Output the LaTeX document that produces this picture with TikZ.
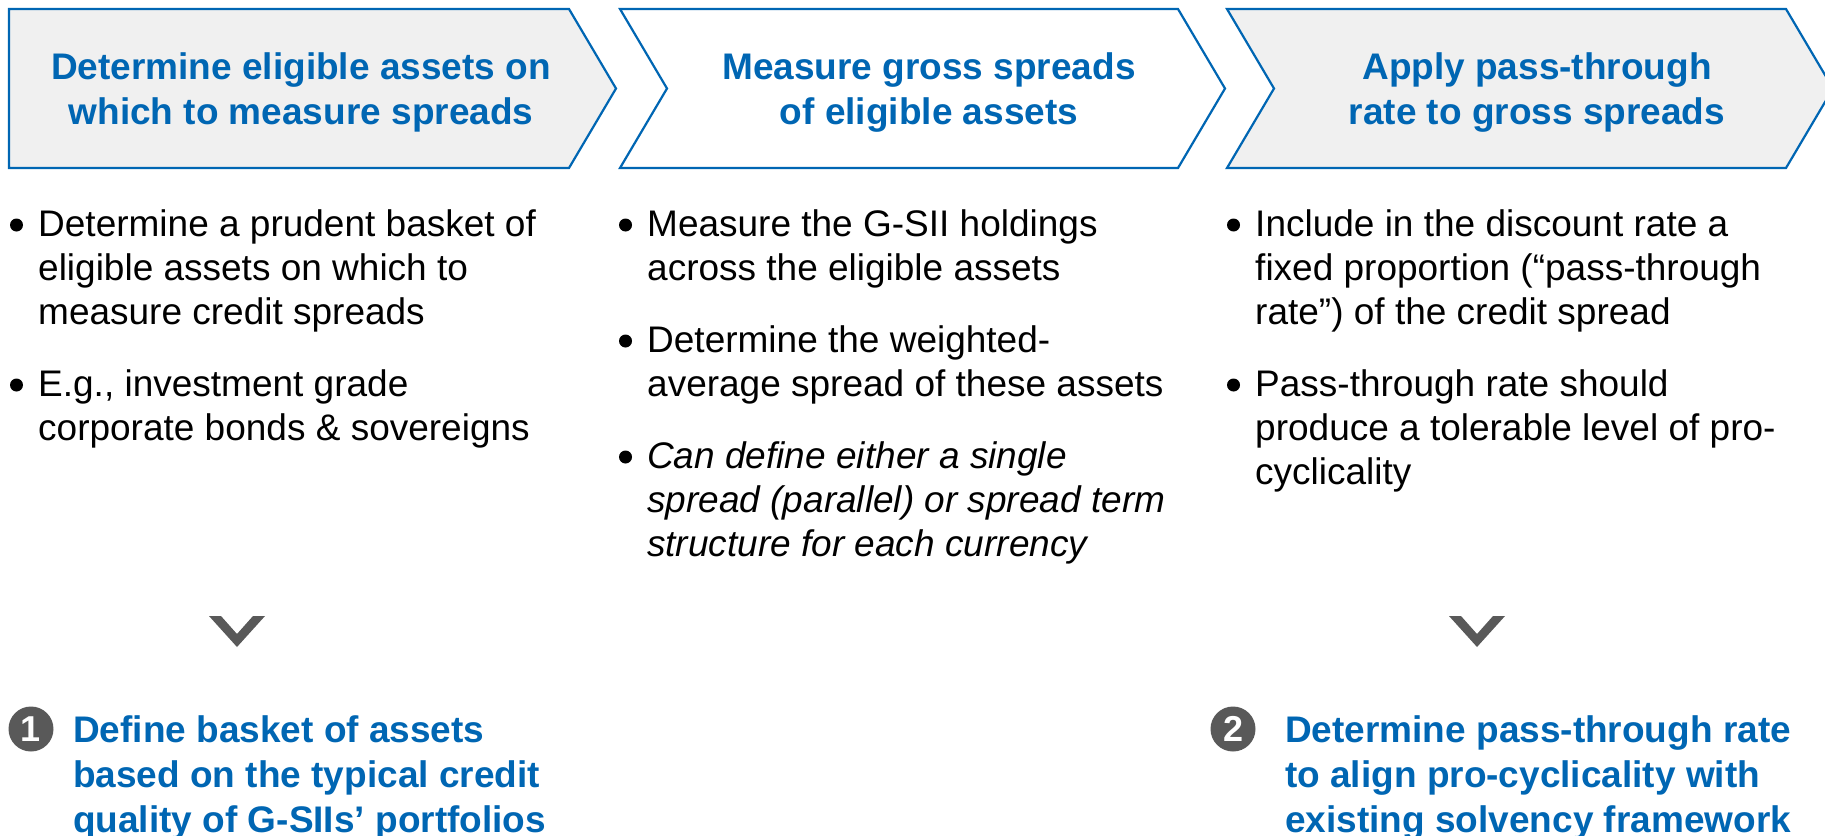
\documentclass[tikz,border=0pt]{standalone}
\usepackage{fontspec}
\setmainfont{Liberation Sans}
\definecolor{stageblue}{HTML}{0066B3}
\definecolor{stagefill}{HTML}{F0F0F0}
\definecolor{markgray}{HTML}{595959}
\begin{document}
\begin{tikzpicture}[x=1pt,y=-1pt,
  stagebox/.style={draw=stageblue, line width=2.2pt, line join=miter},
  headtext/.style={font=\fontsize{37}{45}\selectfont\bfseries, text=stageblue, align=center, inner sep=0pt, anchor=north},
  bodytext/.style={font=\fontsize{37}{44}\selectfont, text=black, align=left, inner sep=0pt, anchor=north west},
  outcome/.style={font=\fontsize{37}{45}\selectfont\bfseries, text=stageblue, align=left, inner sep=0pt, anchor=north west},
  bulletdot/.style={fill=black},
  downmark/.style={fill=markgray},
  numdisc/.style={circle, fill=markgray, text=white, minimum size=45pt, inner sep=0pt, font=\fontsize{36}{36}\selectfont\bfseries}
]
\useasboundingbox (0,0) rectangle (1825,835);
\clip (0,0) rectangle (1825,835);

% three process stages
\draw[stagebox, fill=stagefill] (9,9) -- (569,9) -- (616,88.5) -- (569,168) -- (9,168) -- cycle;
\draw[stagebox, fill=white] (620,9) -- (1178,9) -- (1225,88.5) -- (1178,168) -- (620,168) -- (667,88.5) -- cycle;
\draw[stagebox, fill=stagefill] (1227,9) -- (1786,9) -- (1833,88.5) -- (1786,168) -- (1227,168) -- (1274,88.5) -- cycle;

\node[headtext] (h1) at (301,47.5) {\strut Determine eligible assets on\\which to measure spreads};
\node[headtext] (h2) at (929,47.5) {\strut Measure gross spreads\\of eligible assets};
\node[headtext] (h3) at (1537,47.5) {\strut Apply pass-through\\rate to gross spreads};

% column 1
\node[bodytext] (c1a) at (38,205.2) {\strut Determine a prudent basket of\\eligible assets on which to\\measure credit spreads};
\node[bodytext] (c1b) at (38,365.2) {\strut E.g., investment grade\\corporate bonds \& sovereigns};
\fill[bulletdot] (16.5,225) circle (6.5);
\fill[bulletdot] (16.5,385) circle (6.5);

% column 2
\node[bodytext] (c2a) at (647,205.2) {\strut Measure the G-SII holdings\\across the eligible assets};
\node[bodytext] (c2b) at (647,321.2) {\strut Determine the weighted-\\average spread of these assets};
\node[bodytext, font=\fontsize{37}{44}\selectfont\itshape] (c2c) at (647,437.2) {\strut Can define either a single\\spread (parallel) or spread term\\structure for each currency};
\fill[bulletdot] (625.5,225) circle (6.5);
\fill[bulletdot] (625.5,341) circle (6.5);
\fill[bulletdot] (625.5,457) circle (6.5);

% column 3
\node[bodytext] (c3a) at (1255,205.2) {\strut Include in the discount rate a\\fixed proportion (“pass-through\\rate”) of the credit spread};
\node[bodytext] (c3b) at (1255,365.2) {\strut Pass-through rate should\\produce a tolerable level of pro-\\cyclicality};
\fill[bulletdot] (1233.5,225) circle (6.5);
\fill[bulletdot] (1233.5,385) circle (6.5);

% downward marks
\fill[downmark] (209,616) -- (221,616) -- (237,634) -- (253,616) -- (265,616) -- (237,647) -- cycle;
\fill[downmark] (1449,616) -- (1461,616) -- (1477,634) -- (1493,616) -- (1505,616) -- (1477,647) -- cycle;

% outcomes
\node[numdisc] (n1) at (31,729) {1};
\node[outcome] (o1) at (73,710.5) {\strut Define basket of assets\\based on the typical credit\\quality of G-SIIs’ portfolios};
\node[numdisc] (n2) at (1233,729) {2};
\node[outcome] (o2) at (1285,710.5) {\strut Determine pass-through rate\\to align pro-cyclicality with\\existing solvency framework};
\end{tikzpicture}
\end{document}
